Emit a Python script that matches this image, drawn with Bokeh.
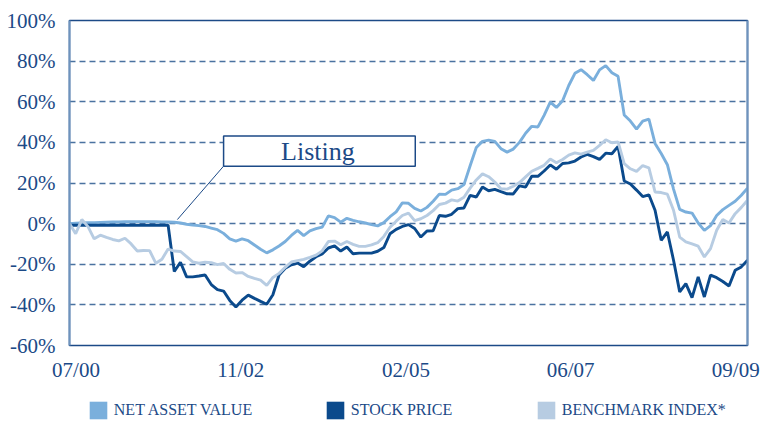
from bokeh.plotting import figure
from bokeh.layouts import column
from bokeh.models import (Range1d, FixedTicker, LinearAxis, Legend, LegendItem,
                          BoxAnnotation, Label, Arrow)
from bokeh.embed import file_html
from bokeh.resources import INLINE

# ---------------- data (monthly, 07/2000 .. 09/2009, % change) ----------------
months = list(range(111))

nav = [
    0, 0.2, 0.3, 0.4, 0.5, 0.6, 0.7, 0.8, 0.8, 0.9,
    0.9, 1.0, 1.0, 1.0, 0.9, 0.8, 0.8, 0.7, 0.3, -0.3,
    -0.7, -1.0, -1.4, -2.2, -3.0, -4.8, -7.5, -8.6, -7.5, -8.4,
    -10.5, -12.6, -14.4, -12.9, -11.0, -8.8, -5.8, -3.3, -5.9, -3.6,
    -2.5, -1.7, 3.8, 3.0, 0.7, 2.6, 1.6, 0.9, 0.3, -0.5,
    -1.1, 0.5, 3.4, 5.8, 10.2, 10.0, 7.5, 6.2, 8.0, 11.0,
    14.5, 14.4, 16.5, 17.2, 19.2, 28.5, 37.5, 40.5, 41.1, 40.5,
    36.9, 35.2, 36.7, 40.0, 44.5, 47.9, 47.6, 53.3, 59.8, 57.2,
    60.5, 68.0, 74.0, 75.8, 73.3, 70.5, 75.7, 77.8, 74.3, 72.5,
    53.5, 50.5, 46.5, 50.5, 51.5, 39.5, 34.5, 29.0, 17.0, 7.0,
    5.7, 5.2, 0.3, -3.3, -1.0, 4.0, 6.9, 9.0, 11.0, 14.0,
    17.5,
]

stock = [
    -0.8, -0.8, -0.8, -0.8, -0.8, -0.8, -0.8, -0.8, -0.8, -0.8,
    -0.8, -0.8, -0.8, -0.8, -0.8, -0.8, -0.8, -23.6, -19.0, -26.2,
    -26.2, -25.8, -25.3, -30.0, -32.5, -33.2, -37.8, -41.0, -37.7, -35.2,
    -36.8, -38.3, -39.7, -35.0, -25.3, -22.0, -20.3, -19.4, -21.2, -18.5,
    -16.3, -14.9, -12.0, -11.0, -13.5, -11.5, -14.8, -14.5, -14.5, -14.5,
    -13.6, -11.8, -5.0, -2.8, -1.4, -0.5, -2.4, -6.6, -3.6, -3.5,
    4.0, 3.6, 4.6, 7.4, 7.7, 13.9, 13.1, 18.0, 16.2, 16.9,
    15.8, 14.7, 14.6, 18.6, 18.0, 23.3, 23.3, 25.9, 28.9, 26.8,
    29.6, 29.9, 30.8, 32.8, 34.1, 33.0, 31.6, 34.7, 34.4, 38.0,
    21.0, 19.5, 16.5, 13.3, 14.2, 6.6, -8.2, -4.1, -18.0, -33.6,
    -29.5, -36.4, -26.2, -36.1, -25.4, -26.6, -28.5, -30.7, -23.0, -21.3,
    -18.0,
]

bench = [
    0, -5.0, 2.0, -1.5, -7.5, -5.7, -6.8, -7.8, -8.5, -7.2,
    -10.0, -13.5, -13.2, -13.3, -19.5, -17.5, -12.5, -13.5, -13.7, -16.2,
    -18.8, -19.5, -19.0, -19.2, -20.2, -19.6, -22.5, -24.3, -24.1, -26.0,
    -27.0, -27.8, -30.4, -26.5, -24.5, -21.5, -18.9, -18.2, -17.6, -16.6,
    -15.5, -13.4, -8.8, -8.6, -10.4, -8.8, -10.2, -11.2, -11.2, -10.5,
    -9.4, -6.3, -1.8, 1.2, 4.0, 5.2, 1.5, 2.4, 4.0, 6.4,
    9.4, 10.1, 11.7, 11.1, 13.0, 17.5, 21.5, 24.5, 23.1, 20.5,
    17.2, 17.0, 18.4, 20.2, 23.0, 25.8, 27.2, 28.7, 31.8, 30.0,
    31.6, 33.7, 34.8, 34.2, 35.2, 36.1, 38.5, 41.3, 39.8, 40.2,
    29.5, 27.0, 25.7, 28.6, 27.5, 15.6, 15.3, 14.5, 6.6, -6.6,
    -9.0, -10.0, -11.1, -16.4, -12.3, -3.3, 2.0, 0.3, 4.9, 8.0,
    11.5,
]

series_names = ["NET ASSET VALUE", "STOCK PRICE", "BENCHMARK INDEX*"]
x_tick_labels = ["07/00", "11/02", "02/05", "06/07", "09/09"]
y_ticks = [-60, -40, -20, 0, 20, 40, 60, 80, 100]
y_tick_labels = ["-60%", "-40%", "-20%", "0%", "20%", "40%", "60%", "80%", "100%"]
annotation_text = "Listing"

# ---------------- style ----------------
FONT = "Liberation Serif"
DARK = "#1c4a87"
STEEL = "#6e93bd"
GRID = "#4a72a0"
C_NAV = "#7aafdc"
C_STOCK = "#0b4a8c"
C_BENCH = "#b7cce2"

x_tick_pos = [1.05, 27.8, 54.6, 81.3, 108.1]

p = figure(width=761, height=390, x_range=Range1d(0, 110), y_range=Range1d(-60, 100),
           output_backend="svg", toolbar_location=None,
           min_border_left=69, min_border_right=14, min_border_top=20, min_border_bottom=45)
p.background_fill_color = "white"
p.border_fill_color = "white"
p.outline_line_color = DARK
p.outline_line_width = 1.5

# x axis
p.xaxis.ticker = FixedTicker(ticks=x_tick_pos)
p.xaxis.major_label_overrides = {t: l for t, l in zip(x_tick_pos, x_tick_labels)}
p.xaxis.axis_line_color = None
p.xaxis.major_tick_line_color = None
p.xaxis.minor_tick_line_color = None
p.xaxis.major_label_standoff = 6
p.xaxis.major_label_text_font = FONT
p.xaxis.major_label_text_font_size = "21px"
p.xaxis.major_label_text_color = DARK

# y axis
p.yaxis.ticker = FixedTicker(ticks=y_ticks)
p.yaxis.major_label_overrides = {t: l for t, l in zip(y_ticks, y_tick_labels)}
p.yaxis.axis_line_color = STEEL
p.yaxis.axis_line_width = 2
p.yaxis.major_tick_line_color = None
p.yaxis.minor_tick_line_color = None
p.yaxis.major_label_standoff = 8
p.yaxis.major_label_text_font = FONT
p.yaxis.major_label_text_font_size = "21px"
p.yaxis.major_label_text_color = DARK

right_axis = LinearAxis(ticker=FixedTicker(ticks=[]), axis_line_color=STEEL, axis_line_width=2,
                        major_tick_line_color=None, minor_tick_line_color=None,
                        major_label_text_font_size="0px")
p.add_layout(right_axis, "right")

# grid
p.xgrid.visible = False
p.ygrid.ticker = FixedTicker(ticks=[-40, -20, 0, 20, 40, 60, 80])
p.ygrid.grid_line_color = GRID
p.ygrid.grid_line_width = 1.3
p.ygrid.grid_line_dash = "6 4"

# lines
p.line(months, nav, line_color=C_NAV, line_width=2.9)
p.line(months, stock, line_color=C_STOCK, line_width=2.9)
p.line(months, bench, line_color=C_BENCH, line_width=2.9)

# annotation
p.add_layout(Arrow(end=None, x_start=17.5, y_start=2.0, x_end=25.0, y_end=28.3,
                   line_color=DARK, line_width=1))
p.add_layout(BoxAnnotation(left=25.0, right=56.1, bottom=28.3, top=43.1,
                           fill_color="white", fill_alpha=1.0,
                           line_color=DARK, line_width=1.5, line_alpha=1.0))
p.add_layout(Label(x=40.3, y=35.6, text=annotation_text, text_align="center",
                   text_baseline="alphabetic", text_font=FONT, text_font_size="26px",
                   text_color=DARK))

# ---------------- legend strip ----------------
lf = figure(width=761, height=31, x_range=Range1d(0, 1), y_range=Range1d(0, 1),
            output_backend="svg", toolbar_location=None,
            x_axis_location=None, y_axis_location=None,
            min_border_left=0, min_border_right=0, min_border_top=0, min_border_bottom=0)
lf.grid.visible = False
lf.outline_line_color = None
lf.background_fill_color = "white"
lf.border_fill_color = "white"

swatch_colors = [C_NAV, C_STOCK, C_BENCH]
legend_x = [17.8, 254.8, 465.8]
for name, col, lx in zip(series_names, swatch_colors, legend_x):
    # placeholder renderer (outside the visible range) that gives the legend its swatch
    r = lf.quad(left=[-3], right=[-2], top=[-2], bottom=[-3], fill_color=col, line_color=None)
    lg = Legend(items=[LegendItem(label=name, renderers=[r])], location=(lx, 0),
                orientation="horizontal", glyph_width=22, glyph_height=22,
                label_standoff=5, padding=0, margin=0, border_line_color=None,
                background_fill_alpha=0, label_text_font=FONT,
                label_text_font_size="16px", label_text_color=DARK, label_height=22)
    lf.add_layout(lg)

layout = column(p, lf, spacing=0)
open("out.html", "w").write(file_html(layout, INLINE))
